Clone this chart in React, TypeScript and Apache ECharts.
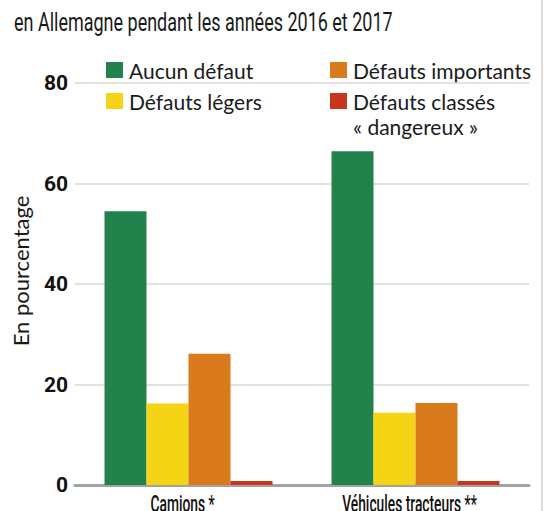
import React, { useEffect, useRef } from "react";
import * as echarts from "echarts";

const titleText = "en Allemagne pendant les années 2016 et 2017";
const yAxisName = "En pourcentage";
const categories = ["Camions *", "Véhicules tracteurs **"];
const seriesNames = ["Aucun défaut", "Défauts légers", "Défauts importants", "Défauts classés\n« dangereux »"];
const seriesColors = ["#21824b", "#f4d414", "#d97b1d", "#c8361e"];
const aucunDefaut = [54.5, 66.4];
const defautsLegers = [16.2, 14.4];
const defautsImportants = [26.1, 16.3];
const defautsDangereux = [0.8, 0.8];
const seriesValues = [aucunDefaut, defautsLegers, defautsImportants, defautsDangereux];
const yTicks = { min: 0, max: 80, interval: 20 };

export default function App() {
  const ref = useRef<HTMLDivElement>(null);
  useEffect(() => {
    if (!ref.current) return;
    const chart = echarts.init(ref.current, null, { renderer: "svg" });
    const legendCols = [106, 330];
    const legendRows = [62, 93];
    const legendItems: any[] = [];
    seriesNames.forEach((name, i) => {
      const x = legendCols[i < 2 ? 0 : 1];
      const y = legendRows[i % 2];
      legendItems.push(
        { type: "rect", shape: { x, y, width: 17, height: 16 }, style: { fill: seriesColors[i] } },
        {
          type: "text",
          x: x + 23,
          y: y - 4,
          style: {
            text: name,
            fontFamily: "Lato",
            fontSize: 21,
            lineHeight: 25,
            fill: "#1a1a1a",
            verticalAlign: "top",
          },
        }
      );
    });
    const baseGraphic: any[] = [
      {
        type: "text",
        x: 14,
        y: 10,
        scaleX: 0.72,
        style: { text: titleText, fontFamily: "Roboto", fontSize: 25, fill: "#1a1a1a" },
      },
      {
        type: "line",
        shape: { x1: 542, y1: 0, x2: 542, y2: 511 },
        style: { stroke: "#dcdcdc", lineWidth: 2 },
      },
      ...legendItems,
    ];
    chart.setOption({
      animation: false,
      backgroundColor: "#fff",
      grid: { left: 75, right: 21, top: 83, bottom: 26, outerBoundsMode: "none" },
      legend: { show: false },
      xAxis: {
        type: "category",
        data: categories,
        axisLine: { lineStyle: { color: "#a3a3a3", width: 3 } },
        axisTick: { show: false },
        axisLabel: { show: false },
      },
      yAxis: {
        type: "value",
        min: yTicks.min,
        max: yTicks.max,
        interval: yTicks.interval,
        name: yAxisName,
        nameLocation: "middle",
        nameGap: 44,
        nameTextStyle: { fontFamily: "Lato", fontSize: 22, color: "#1a1a1a", padding: [0, 0, 0, 26] },
        axisLine: { show: false },
        axisTick: { show: false },
        splitLine: { lineStyle: { color: "#d9d9d9", width: 1.5 } },
        axisLabel: {
          fontFamily: "Roboto",
          fontWeight: "bold",
          fontSize: 21,
          color: "#111",
          margin: 7,
        },
      },
      series: seriesNames.map((name, i) => ({
        name,
        type: "bar",
        data: seriesValues[i],
        itemStyle: { color: seriesColors[i] },
        barGap: "0%",
        barCategoryGap: "26%",
      })),
      graphic: baseGraphic,
    });
    // category labels, positioned through the chart's own scales, drawn condensed
    const catLabels = categories.map((c, i) => {
      const p = chart.convertToPixel({ gridIndex: 0 }, [i, 0]) as number[];
      return {
        type: "text",
        x: p[0] - 6,
        y: p[1] + 8,
        scaleX: 0.6,
        style: {
          text: c,
          fontFamily: "Roboto",
          fontWeight: 500,
          fontSize: 23,
          fill: "#111",
          align: "center",
          verticalAlign: "top",
        },
      };
    });
    chart.setOption({ graphic: [...baseGraphic, ...catLabels] });
    return () => chart.dispose();
  }, []);
  return <div ref={ref} style={{ width: 550, height: 511, position: "absolute", left: 0, top: 0 }} />;
}
